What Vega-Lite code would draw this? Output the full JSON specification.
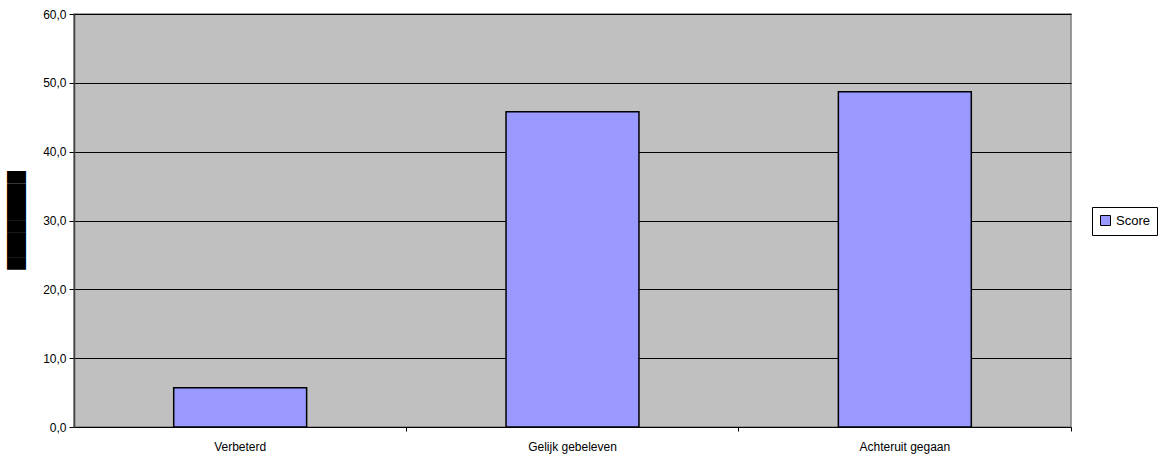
{
  "$schema": "https://vega.github.io/schema/vega-lite/v6.json",
  "autosize": "none",
  "width": 997,
  "height": 413,
  "padding": {"left": 74, "top": 14, "right": 91, "bottom": 29},
  "background": "white",
  "data": {
    "values": [
      {"categorie": "Verbeterd", "score": 5.7, "reeks": "Score"},
      {"categorie": "Gelijk gebeleven", "score": 45.8, "reeks": "Score"},
      {"categorie": "Achteruit gegaan", "score": 48.7, "reeks": "Score"}
    ]
  },
  "mark": {"type": "bar", "stroke": "black", "strokeWidth": 1.5},
  "encoding": {
    "x": {
      "field": "categorie",
      "type": "nominal",
      "sort": null,
      "scale": {"paddingInner": 0.6, "paddingOuter": 0.3},
      "axis": {
        "title": null,
        "labelAngle": 0,
        "bandPosition": 1.75,
        "labelOffset": 0,
        "labelPadding": 10,
        "tickSize": 4,
        "tickColor": "black",
        "domainColor": "black",
        "labelFont": "Liberation Sans",
        "labelFontSize": 12,
        "labelColor": "black"
      }
    },
    "y": {
      "field": "score",
      "type": "quantitative",
      "scale": {"domain": [0, 60], "nice": false},
      "axis": {
        "values": [0, 10, 20, 30, 40, 50, 60],
        "labelExpr": "replace(format(datum.value, '.1f'), '.', ',')",
        "grid": true,
        "gridColor": "black",
        "gridOpacity": 1,
        "gridWidth": 1,
        "tickColor": "black",
        "tickSize": 5,
        "domainColor": "#404040",
        "domainWidth": 1.5,
        "labelFont": "Liberation Sans",
        "labelFontSize": 12,
        "labelColor": "black",
        "labelPadding": 3,
        "title": "████████",
        "titleFont": "DejaVu Sans",
        "titleFontSize": 16,
        "titleFontWeight": "normal",
        "titleColor": "black",
        "titleX": -58,
        "titleY": 206,
        "titleBaseline": "middle",
        "titleAlign": "center",
        "titleAngle": -90
      }
    },
    "color": {
      "field": "reeks",
      "type": "nominal",
      "scale": {"range": ["#9999FF"]},
      "legend": {
        "title": null,
        "orient": "none",
        "legendX": 1018,
        "legendY": 193,
        "strokeColor": "black",
        "fillColor": "white",
        "padding": 7,
        "symbolType": "square",
        "symbolStrokeColor": "black",
        "symbolStrokeWidth": 1,
        "symbolSize": 100,
        "symbolOpacity": 1,
        "labelFont": "Liberation Sans",
        "labelFontSize": 13,
        "labelColor": "black",
        "labelOffset": 4
      }
    }
  },
  "config": {
    "view": {"fill": "#C0C0C0", "stroke": "#808080", "strokeWidth": 1.5}
  }
}
